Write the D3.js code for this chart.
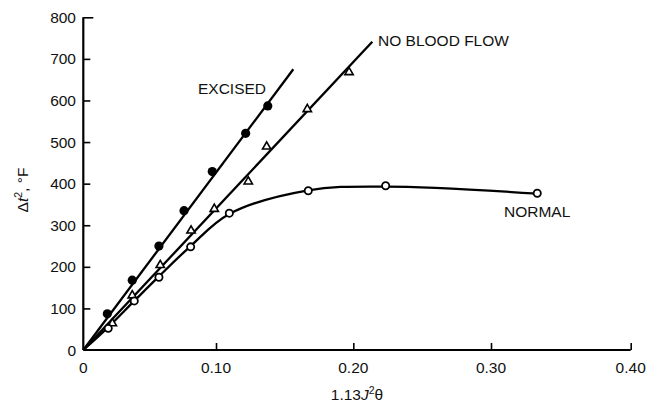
<!DOCTYPE html>
<html>
<head>
<meta charset="utf-8">
<script src="https://cdn.jsdelivr.net/npm/d3@7"></script>
<style>
  html, body { margin: 0; padding: 0; background: #fff; }
  svg { display: block; }
  text { font-family: "Liberation Sans", Arial, sans-serif; fill: #111; }
</style>
</head>
<body>
<svg id="chart" width="659" height="405"></svg>
<script>
// ---- data ----
const xTicks = [0, 0.1, 0.2, 0.3, 0.4];
const xTickLabels = ["0", "0.10", "0.20", "0.30", "0.40"];
const yTicks = [0, 100, 200, 300, 400, 500, 600, 700, 800];

// EXCISED (filled circles)
const excisedX = [0.0181, 0.0369, 0.0570, 0.0759, 0.0972, 0.1216, 0.1377];
const excisedY = [87, 168, 250, 335, 429, 521, 587];
const excisedFitX = [0, 0.1563];
const excisedFitY = [0, 675];

// NO BLOOD FLOW (open triangles)
const noFlowX = [0.0219, 0.0369, 0.0580, 0.0812, 0.0987, 0.1235, 0.1369, 0.1665, 0.1969];
const noFlowY = [64, 131, 204, 287, 339, 405, 489, 579, 668];
const noFlowFitX = [0, 0.2138];
const noFlowFitY = [0, 741];

// NORMAL (open circles)
const normalX = [0.0188, 0.0384, 0.0570, 0.0809, 0.1097, 0.1672, 0.2235, 0.3331];
const normalY = [52, 118, 175, 248, 329, 383, 395, 377];
const normalFitX = [0, 0.0188, 0.0384, 0.0570, 0.0809, 0.1097, 0.1672, 0.2235, 0.3331];
const normalFitY = [0, 55, 118, 177, 250, 327, 384, 393, 376];

// ---- drawing ----
const svg = d3.select("#chart");
const x = d3.scaleLinear().domain(xTicks).range([83.3, 216, 353.3, 491, 630.7]);
const y = d3.scaleLinear().domain([0, 800]).range([350, 17.3]);

const zip = (a, b) => a.map((v, i) => [v, b[i]]);
const line = d3.line().x(d => x(d[0])).y(d => y(d[1]));
const curve = d3.line().x(d => x(d[0])).y(d => y(d[1])).curve(d3.curveCatmullRom.alpha(0.5));

// axes
const xAxis = d3.axisBottom(x).tickValues(xTicks.slice(1)).tickSize(-7).tickFormat("");
const gx = svg.append("g").attr("transform", `translate(0,${y(0)})`).call(xAxis);
gx.select(".domain").attr("d", `M${x(0)},0H${x(0.4)}`).attr("stroke-width", 2.2);
gx.selectAll(".tick line").attr("stroke-width", 1.6);

const yAxis = d3.axisLeft(y).tickValues(yTicks.slice(1)).tickSize(-7).tickFormat("");
const gy = svg.append("g").attr("transform", `translate(${x(0)},0)`).call(yAxis);
gy.select(".domain").attr("d", `M0,${y(0)}V${y(800)}`).attr("stroke-width", 2.2);
gy.selectAll(".tick line").attr("stroke-width", 1.6)
  .attr("x2", d => d === 800 ? 10 : 7);

// tick labels
svg.append("g").selectAll("text").data(xTicks).join("text")
  .attr("x", d => x(d)).attr("y", 373)
  .attr("text-anchor", "middle").attr("font-size", 15.5)
  .text((d, i) => xTickLabels[i]);
svg.append("g").selectAll("text").data(yTicks).join("text")
  .attr("x", 76).attr("y", d => y(d)).attr("dy", "0.36em")
  .attr("text-anchor", "end").attr("font-size", 15.5)
  .text(d => d);

// axis titles
const xt = svg.append("text").attr("x", 357).attr("y", 400)
  .attr("text-anchor", "middle").attr("font-size", 15.5);
xt.append("tspan").text("1.13");
xt.append("tspan").attr("font-style", "italic").text("J");
xt.append("tspan").attr("font-size", 10.5).attr("dy", -6).text("2");
xt.append("tspan").attr("dy", 6).text("θ");

const yt = svg.append("text").attr("transform", "translate(28,190) rotate(-90)")
  .attr("text-anchor", "middle").attr("font-size", 15.5);
yt.append("tspan").text("Δ");
yt.append("tspan").attr("font-style", "italic").text("t");
yt.append("tspan").attr("font-size", 10.5).attr("dy", -6).text("2");
yt.append("tspan").attr("dy", 6).text(", °F");

// lines
const lineStyle = s => s.attr("fill", "none").attr("stroke", "#000").attr("stroke-width", 2.3);
svg.append("path").datum(zip(excisedFitX, excisedFitY)).attr("d", line).call(lineStyle);
svg.append("path").datum(zip(noFlowFitX, noFlowFitY)).attr("d", line).call(lineStyle);
svg.append("path").datum(zip(normalFitX, normalFitY)).attr("d", curve).call(lineStyle);

// markers
svg.append("g").selectAll("circle").data(zip(excisedX, excisedY)).join("circle")
  .attr("cx", d => x(d[0])).attr("cy", d => y(d[1])).attr("r", 4.6).attr("fill", "#000");

svg.append("g").selectAll("path").data(zip(noFlowX, noFlowY)).join("path")
  .attr("transform", d => `translate(${x(d[0])},${y(d[1])})`)
  .attr("d", d3.symbol(d3.symbolTriangle, 30))
  .attr("fill", "#fff").attr("stroke", "#000").attr("stroke-width", 1.6);

svg.append("g").selectAll("circle").data(zip(normalX, normalY)).join("circle")
  .attr("cx", d => x(d[0])).attr("cy", d => y(d[1])).attr("r", 3.6)
  .attr("fill", "#fff").attr("stroke", "#000").attr("stroke-width", 1.8);

// series labels
svg.append("text").attr("x", 198).attr("y", 94).attr("font-size", 15.5).text("EXCISED");
svg.append("text").attr("x", 378).attr("y", 46).attr("font-size", 15.5).text("NO BLOOD FLOW");
svg.append("text").attr("x", 504).attr("y", 217).attr("font-size", 15.5).text("NORMAL");
</script>
</body>
</html>
